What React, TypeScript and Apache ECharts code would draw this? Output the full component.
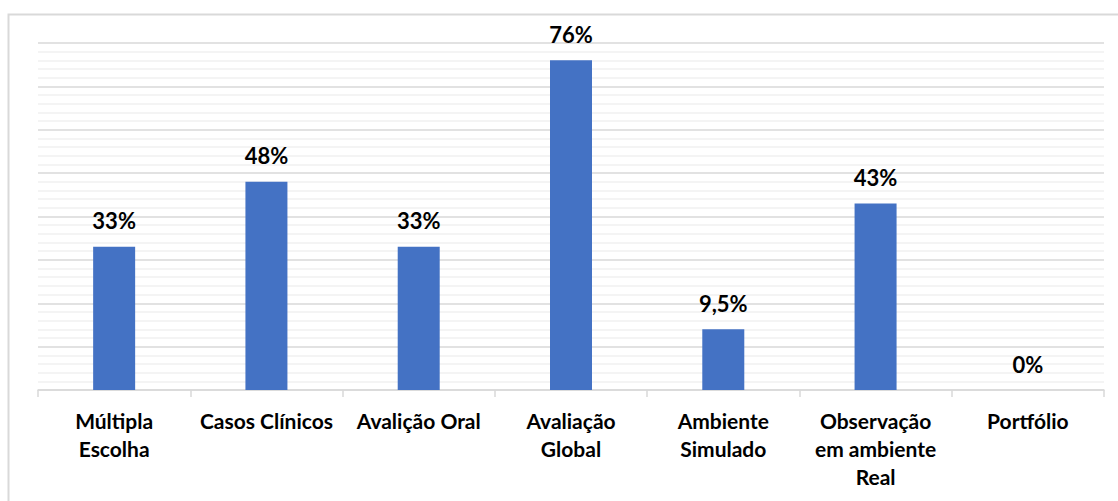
import React, { useEffect, useRef } from "react";
import * as echarts from "echarts";

const categories = [
  "Múltipla\nEscolha",
  "Casos Clínicos",
  "Avalição Oral",
  "Avaliação\nGlobal",
  "Ambiente\nSimulado",
  "Observação\nem ambiente\nReal",
  "Portfólio",
];
const values = [33, 48, 33, 76, 14, 43, 0];
const valueLabels = ["33%", "48%", "33%", "76%", "9,5%", "43%", "0%"];

export default function App() {
  const ref = useRef<HTMLDivElement>(null);
  useEffect(() => {
    if (!ref.current) return;
    const chart = echarts.init(ref.current, undefined, { renderer: "svg" });
    chart.setOption({
      animation: false,
      backgroundColor: "#ffffff",
      textStyle: { fontFamily: "Lato" },
      graphic: [
        {
          type: "rect",
          shape: { x: 8.5, y: 14.5, width: 1300, height: 700 },
          style: { fill: "none", stroke: "#d9d9d9", lineWidth: 2 },
          silent: true,
        },
      ],
      grid: { left: 38, right: 14, top: 43, bottom: 111 },
      xAxis: {
        type: "category",
        data: categories,
        boundaryGap: true,
        axisLine: { show: true, lineStyle: { color: "#d9d9d9", width: 1.5 } },
        axisTick: { show: true, length: 7, lineStyle: { color: "#d9d9d9", width: 1.5 } },
        axisLabel: {
          interval: 0,
          color: "#000000",
          fontFamily: "Lato",
          fontWeight: "bold",
          fontSize: 21,
          lineHeight: 28,
          margin: 16,
        },
      },
      yAxis: {
        type: "value",
        min: 0,
        max: 80,
        interval: 10,
        axisLabel: { show: false },
        axisLine: { show: false },
        axisTick: { show: false },
        splitLine: { show: true, lineStyle: { color: "#d9d9d9", width: 1.5 } },
        minorTick: { show: false, splitNumber: 5 },
        minorSplitLine: { show: true, lineStyle: { color: "#f0f0f0", width: 1.5 } },
      },
      series: [
        {
          type: "bar",
          data: values,
          barWidth: 42,
          itemStyle: { color: "#4472C4" },
          label: {
            show: true,
            position: "top",
            distance: 15,
            color: "#000000",
            fontFamily: "Lato",
            fontWeight: "bold",
            fontSize: 22,
            formatter: (p: any) => valueLabels[p.dataIndex],
          },
        },
      ],
    });
    return () => chart.dispose();
  }, []);
  return (
    <div
      ref={ref}
      style={{ position: "fixed", left: 0, top: 0, width: 1118, height: 501 }}
    />
  );
}
